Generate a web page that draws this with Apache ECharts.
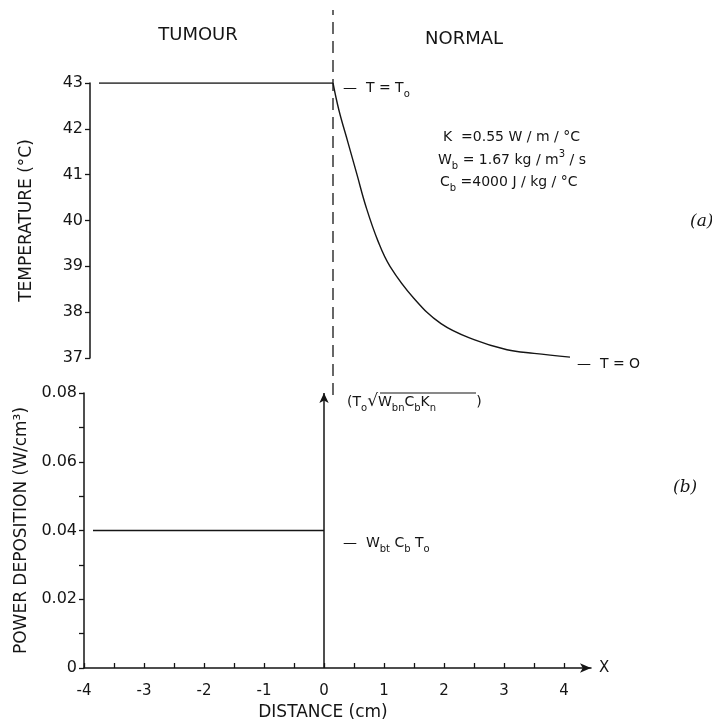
<!DOCTYPE html>
<html>
<head>
<meta charset="utf-8">
<script src="https://cdn.jsdelivr.net/npm/echarts@6/dist/echarts.min.js"></script>
<style>
  html, body { margin: 0; padding: 0; background: #fff; }
  #chart { width: 712px; height: 724px; }
</style>
</head>
<body>
<div id="chart"></div>
<script>
// (a) temperature, tumour plateau and normal tissue decay
const tumourX = [-3.85, 0.05]
const tumourTemp = [43, 43]
const normalX = [0.05, 0.15, 0.3, 0.45, 0.6, 0.8, 1.0, 1.4, 1.85, 2.4, 2.95, 3.4, 4.0]
const normalTemp = [43, 42.4, 41.7, 41.0, 40.3, 39.55, 39.0, 38.3, 37.75, 37.4, 37.18, 37.1, 37.02]

// tumour / normal boundary (dashed)
const boundaryX = [0.05, 0.05]
const boundaryY = [0, 1]

// (b) power deposition
const powerX = [-3.85, 0]
const power = [0.04, 0.04]
const spikeX = [0, 0]
const spikeY = [0, 0.08]

// axis ticks
const distLabels = [-4, -3, -2, -1, 0, 1, 2, 3, 4]
const distTicks = [-4, -3.5, -3, -2.5, -2, -1.5, -1, -0.5, 0, 0.5, 1, 1.5, 2, 2.5, 3, 3.5, 4]

const ink = '#151515'
const font = 'DejaVu Sans'

const zip = (xs, ys) => xs.map((x, i) => [x, ys[i]])

const chart = echarts.init(document.getElementById('chart'))

const sub = { fontSize: 10, fontFamily: font, color: ink, verticalAlign: 'bottom', lineHeight: 9 }
const sup = { fontSize: 10, fontFamily: font, color: ink, verticalAlign: 'top', lineHeight: 11 }
const norm = { fontSize: 14, fontFamily: font, color: ink, lineHeight: 22 }
const root = { fontSize: 17, fontFamily: font, color: ink, lineHeight: 22 }

function label(x, y, text, opts) {
  return {
    type: 'text',
    style: Object.assign({
      x: x, y: y, text: text,
      font: '14px "' + font + '"',
      fill: ink,
      align: 'left',
      verticalAlign: 'middle',
      rich: { n: norm, s: sub, p: sup, r: root }
    }, opts || {})
  }
}

const option = {
  backgroundColor: '#fff',
  animation: false,
  grid: [
    { left: 90, top: 83, width: 507, height: 275 },
    { left: 84, top: 393, width: 507, height: 275 },
    { left: 90, top: 10, width: 507, height: 385 }
  ],
  xAxis: [
    { gridIndex: 0, type: 'value', min: -4, max: 4.45, show: false },
    {
      gridIndex: 1, type: 'value', min: -4, max: 4.45,
      name: 'X', nameLocation: 'end', nameGap: 8,
      nameTextStyle: { fontFamily: font, fontSize: 15, color: ink },
      axisLine: { show: true, onZero: false, symbol: ['none', 'arrow'], symbolSize: [7, 11], lineStyle: { color: ink, width: 1.5 } },
      axisTick: { show: true, inside: true, length: 5, customValues: distTicks, lineStyle: { color: ink, width: 1.3 } },
      axisLabel: { customValues: distLabels, fontFamily: font, fontSize: 15, color: ink, margin: 16 },
      splitLine: { show: false }
    },
    { gridIndex: 2, type: 'value', min: -4, max: 4.45, show: false }
  ],
  yAxis: [
    {
      gridIndex: 0, type: 'value', min: 37, max: 43, interval: 1,
      name: 'TEMPERATURE (°C)', nameLocation: 'middle', nameRotate: 90, nameGap: 55,
      nameTextStyle: { fontFamily: font, fontSize: 17, color: ink },
      axisLine: { show: true, onZero: false, lineStyle: { color: ink, width: 1.5 } },
      axisTick: { show: true, length: 5, lineStyle: { color: ink, width: 1.3 } },
      axisLabel: { fontFamily: font, fontSize: 16, color: ink, margin: 7 },
      splitLine: { show: false }
    },
    {
      gridIndex: 1, type: 'value', min: 0, max: 0.08, interval: 0.01,
      name: 'POWER DEPOSITION (W/cm³)', nameLocation: 'middle', nameRotate: 90, nameGap: 54,
      nameTextStyle: { fontFamily: font, fontSize: 17, color: ink },
      axisLine: { show: true, onZero: false, lineStyle: { color: ink, width: 1.5 } },
      axisTick: { show: true, length: 5, lineStyle: { color: ink, width: 1.3 } },
      axisLabel: {
        fontFamily: font, fontSize: 16, color: ink, margin: 7,
        formatter: v => {
          const k = Math.round(v * 100)
          if (k % 2) return ''
          return k === 0 ? '0' : v.toFixed(2)
        }
      },
      splitLine: { show: false }
    },
    { gridIndex: 2, type: 'value', min: 0, max: 1, show: false }
  ],
  series: [
    {
      type: 'line', xAxisIndex: 0, yAxisIndex: 0, data: zip(tumourX, tumourTemp),
      showSymbol: false, lineStyle: { color: ink, width: 1.6 }
    },
    {
      type: 'line', xAxisIndex: 0, yAxisIndex: 0, data: zip(normalX, normalTemp),
      showSymbol: false, smooth: 0.4, lineStyle: { color: ink, width: 1.4 }
    },
    {
      type: 'line', xAxisIndex: 2, yAxisIndex: 2, data: zip(boundaryX, boundaryY),
      showSymbol: false, lineStyle: { color: ink, width: 1.3, type: [12, 7] }
    },
    {
      type: 'line', xAxisIndex: 1, yAxisIndex: 1, data: zip(powerX, power),
      showSymbol: false, lineStyle: { color: ink, width: 1.5 }
    },
    {
      type: 'line', xAxisIndex: 1, yAxisIndex: 1,
      data: zip(spikeX, spikeY).map((p, i, a) => i === a.length - 1
        ? { value: p, symbol: 'arrow', symbolSize: [7, 10] }
        : { value: p, symbol: 'none' }),
      showAllSymbol: true,
      itemStyle: { color: ink },
      lineStyle: { color: ink, width: 1.5 }
    }
  ],
  graphic: [
    label(198, 35, 'TUMOUR', { font: '18px "' + font + '"', align: 'center' }),
    label(464, 39, 'NORMAL', { font: '18px "' + font + '"', align: 'center' }),
    label(343, 88, '{n|—  T = T}{s|o}'),
    label(443, 137, '{n|K  =0.55 W / m / °C}'),
    label(438, 160, '{n|W}{s|b}{n| = 1.67 kg / m}{p|3}{n| / s}'),
    label(440, 182, '{n|C}{s|b}{n| =4000 J / kg / °C}'),
    label(577, 364, '{n|—  T = O}'),
    label(347, 402, '{n|(T}{s|o}{r|√}{n|W}{s|bn}{n|C}{s|b}{n|K}{s|n}{n|         )}'),
    { type: 'line', shape: { x1: 380, y1: 393, x2: 476, y2: 393 }, style: { stroke: ink, lineWidth: 1.2 } },
    label(343, 543, '{n|—  W}{s|bt}{n| C}{s|b}{n| T}{s|o}'),
    label(323, 713, 'DISTANCE (cm)', { font: '17px "' + font + '"', align: 'center' }),
    label(690, 222, '(a)', { font: 'italic 17px "DejaVu Serif"' }),
    label(673, 488, '(b)', { font: 'italic 17px "DejaVu Serif"' })
  ]
}

chart.setOption(option)
</script>
</body>
</html>
